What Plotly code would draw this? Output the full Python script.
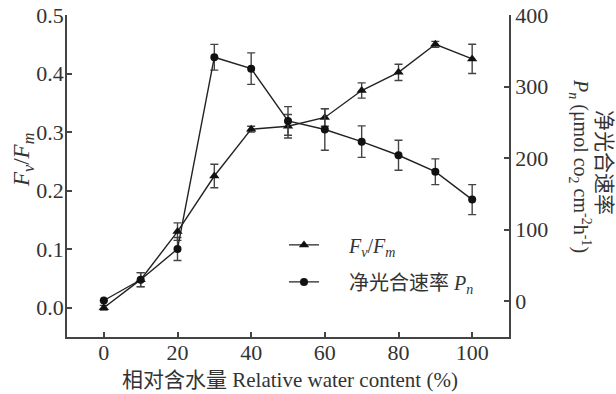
import plotly.graph_objects as go

# Data
water = [0, 10, 20, 30, 40, 50, 60, 70, 80, 90, 100]
fvfm = [0.0, 0.048, 0.13, 0.225, 0.305, 0.31, 0.325, 0.371, 0.402, 0.45, 0.425]
fvfm_err = [0.004, 0.012, 0.015, 0.02, 0.005, 0.02, 0.015, 0.013, 0.014, 0.005, 0.025]
pn = [1, 30, 73, 341, 325, 252, 240, 223, 204, 181, 142]
pn_err = [0, 10, 16, 18, 22, 20, 29, 22, 21, 18, 21]

x_ticks = [0, 20, 40, 60, 80, 100]
y_ticks = [0.0, 0.1, 0.2, 0.3, 0.4, 0.5]
y2_ticks = [0, 100, 200, 300, 400]

FONT = "Liberation Serif, Times New Roman, Noto Sans CJK SC, serif"
TXT = "#333333"
AX = "#444444"
NB = "\u00a0" * 5

fig = go.Figure()
fig.add_trace(go.Scatter(
    x=water, y=fvfm, mode="lines+markers", yaxis="y",
    name=NB + "<i>F</i><sub><i>v</i></sub>/<i>F</i><sub><i>m</i></sub>",
    legendgroup="a",
    line=dict(color="#222222", width=1.4),
    marker=dict(symbol="triangle-up", size=9, color="#111111"),
    error_y=dict(type="data", array=fvfm_err, visible=True, color="#444444",
                 thickness=1.4, width=4),
))
fig.add_trace(go.Scatter(
    x=water, y=pn, mode="lines+markers", yaxis="y2",
    name=NB + "净光合速率 <i>P</i><sub><i>n</i></sub>",
    legendgroup="b",
    line=dict(color="#222222", width=1.4),
    marker=dict(symbol="circle", size=8, color="#111111"),
    error_y=dict(type="data", array=pn_err, visible=True, color="#444444",
                 thickness=1.4, width=4),
))

axis_common = dict(showgrid=False, zeroline=False, showline=True, linecolor=AX,
                   linewidth=1.5, ticks="inside", ticklen=5, tickcolor=AX,
                   tickwidth=1.5, automargin=False,
                   tickfont=dict(family=FONT, size=22, color=TXT))

fig.update_layout(
    width=616, height=394,
    margin=dict(l=67, r=107, t=15, b=57, autoexpand=False),
    paper_bgcolor="white", plot_bgcolor="white",
    font=dict(family=FONT, color=TXT, size=20),
    xaxis=dict(range=[-10, 110], tickvals=x_ticks, ticklabelstandoff=-5, **axis_common),
    yaxis=dict(range=[-0.05, 0.5], tickvals=y_ticks, tickformat=".1f",
               ticklabelstandoff=-3, **axis_common),
    yaxis2=dict(range=[-50, 400], tickvals=y2_ticks, overlaying="y", side="right",
                **axis_common),
    showlegend=True,
    legend=dict(x=(284 - 67) / 442, y=0.3466, xanchor="left", yanchor="top",
                bgcolor="rgba(0,0,0,0)", font=dict(family=FONT, size=20, color=TXT),
                tracegroupgap=8),
    annotations=[
        dict(text="<i>F</i><sub><i>v</i></sub>/<i>F</i><sub><i>m</i></sub>",
             xref="paper", yref="paper", x=(23 - 67) / 442, y=(337 - 160) / 322,
             textangle=-90, showarrow=False, xanchor="center", yanchor="middle",
             font=dict(family=FONT, size=23, color=TXT)),
        dict(text="相对含水量 Relative water content (%)",
             xref="paper", yref="paper", x=(290 - 67) / 442, y=(337 - 380) / 322,
             showarrow=False, xanchor="center", yanchor="middle",
             font=dict(family=FONT, size=21, color=TXT)),
        dict(text="净光合速率",
             xref="paper", yref="paper", x=(604 - 67) / 442, y=(337 - 162) / 322,
             textangle=90, showarrow=False, xanchor="center", yanchor="middle",
             font=dict(family=FONT, size=21, color=TXT)),
        dict(text="<i>P</i><sub><i>n</i></sub> (μmol co<sub>2</sub> cm<sup>-2</sup>h<sup>-1</sup>)",
             xref="paper", yref="paper", x=(580 - 67) / 442, y=(337 - 166) / 322,
             textangle=90, showarrow=False, xanchor="center", yanchor="middle",
             font=dict(family=FONT, size=20, color=TXT)),
    ],
)

fig.write_html("out.html")
